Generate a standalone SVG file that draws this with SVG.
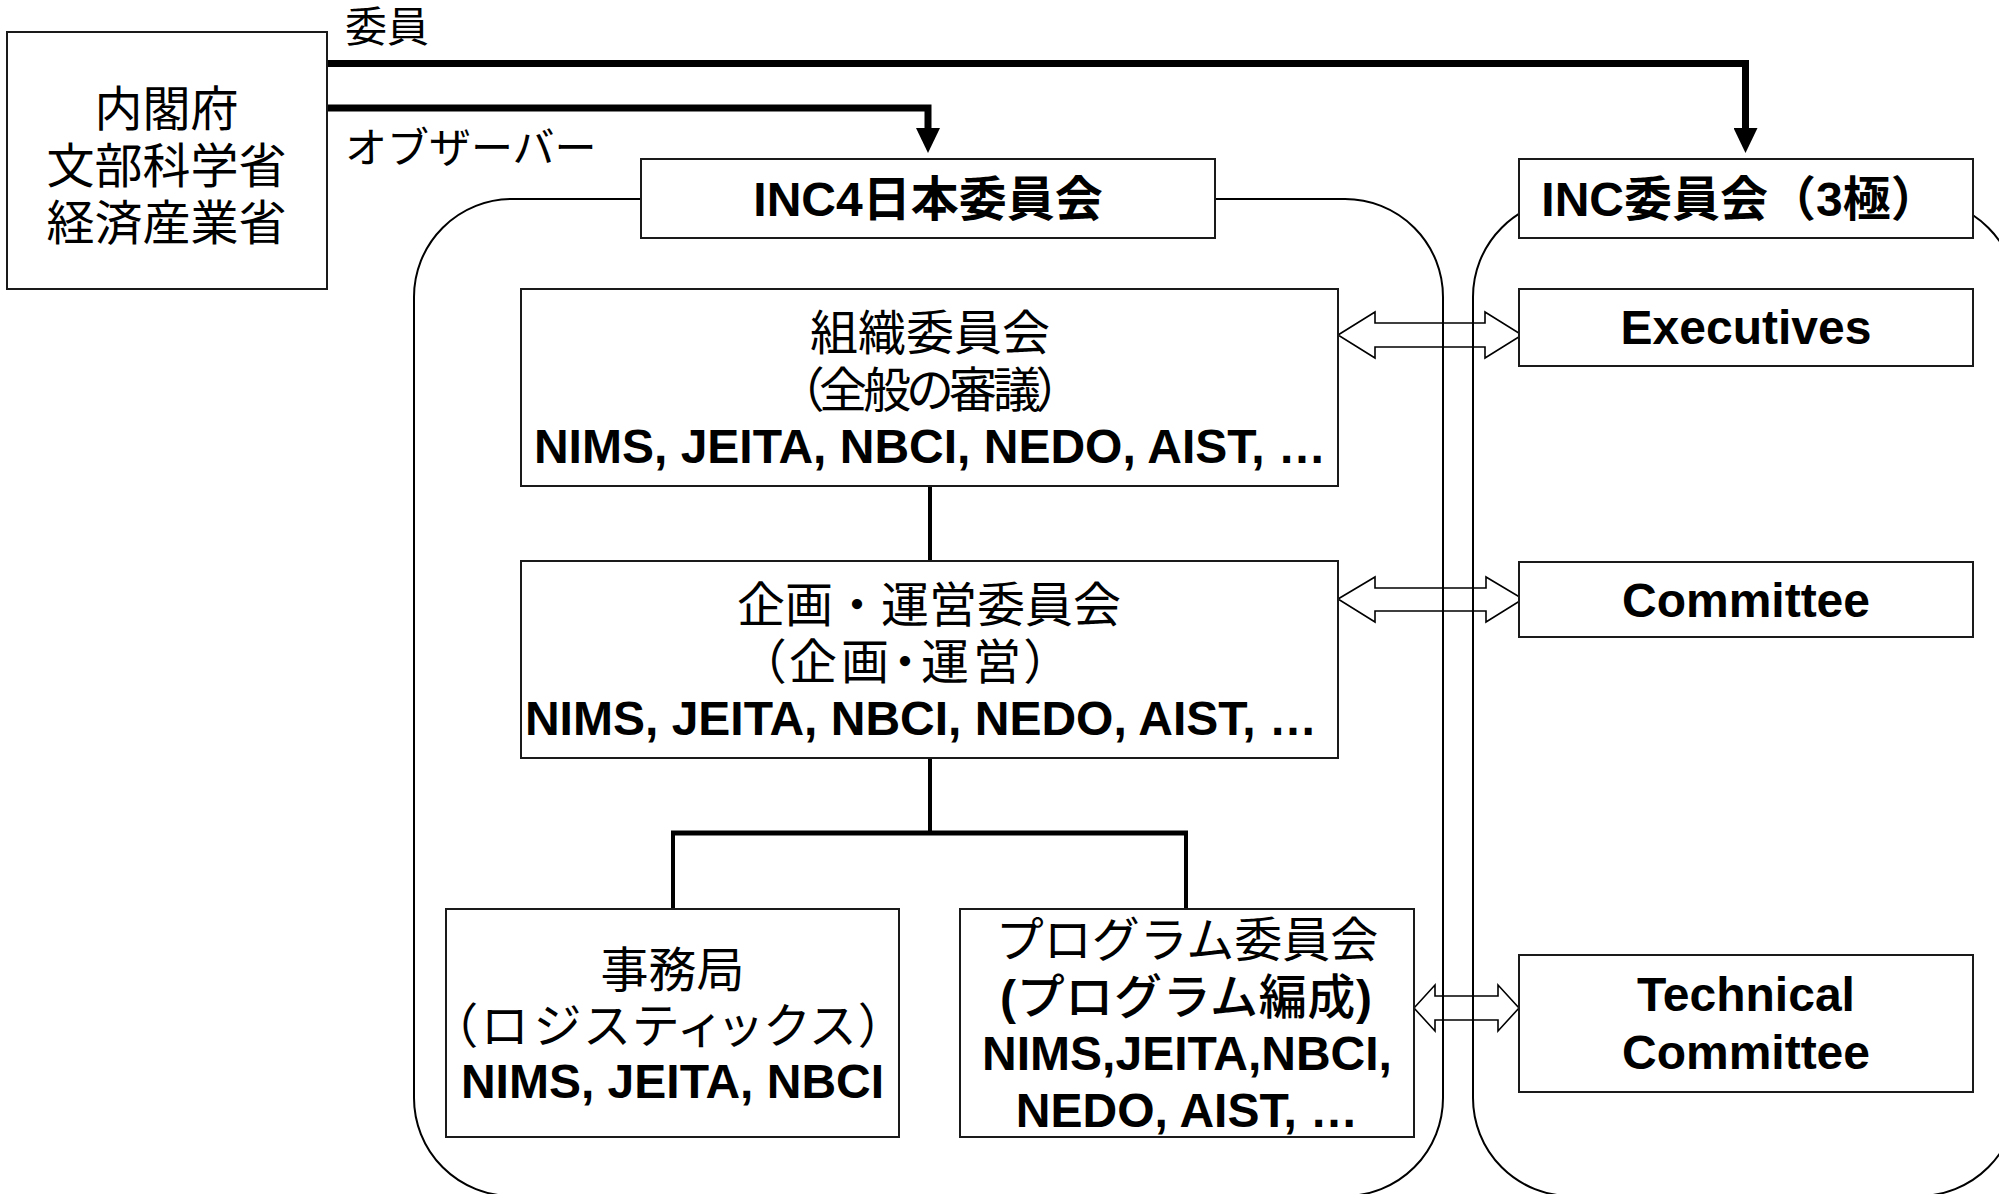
<svg xmlns="http://www.w3.org/2000/svg" width="1999" height="1194" viewBox="0 0 1999 1194">
<style>
.box{fill:#fff;stroke:#1a1a1a;stroke-width:2}
.cont{fill:none;stroke:#000;stroke-width:2}
.t{font-family:"Liberation Sans","Noto Sans CJK JP",sans-serif;font-size:48px;fill:#000;text-anchor:middle}
.s{font-family:"Liberation Sans","Noto Sans CJK JP",sans-serif;font-size:42px;fill:#000}
.b{font-weight:bold}
.m{font-weight:500}
.palt{font-feature-settings:"palt"}
.thick{fill:none;stroke:#000;stroke-width:7;stroke-linejoin:miter}
.tree{fill:none;stroke:#000;stroke-width:4}
.bar{fill:none;stroke:#000;stroke-width:5}
.dbl{fill:#fff;stroke:#000;stroke-width:1.6;stroke-linejoin:miter}
</style>
<defs>
<marker id="ah" markerUnits="userSpaceOnUse" markerWidth="26" markerHeight="24" viewBox="0 0 26 24" refX="0" refY="12" orient="auto"><path d="M0,0 L25,12 L0,24 z" fill="#000"/></marker>
</defs>
<rect width="1999" height="1194" fill="#fff"/>

<g id="connectors">
<path class="thick" d="M327,63.5 H1745.5 V128" marker-end="url(#ah)"/>
<path class="thick" d="M327,108 H928 V128" marker-end="url(#ah)"/>
<path class="tree" d="M930,486 V561 M930,758 V833 M673,833 V909 M1186,833 V909"/>
<path class="bar" d="M671,833 H1188"/>
<polygon class="dbl" points="1338,335 1375,312 1375,323 1485,323 1485,312 1522,335 1485,358 1485,347 1375,347 1375,358"/>
<polygon class="dbl" points="1338,599 1375,577 1375,588 1486,588 1486,577 1523,599 1486,622 1486,611 1375,611 1375,622"/>
<polygon class="dbl" points="1414,1008 1435,985 1435,996 1498,996 1498,985 1519,1008 1498,1031 1498,1020 1435,1020 1435,1031"/>
<text class="s" x="345" y="42">委員</text>
<text class="s" x="345" y="163">オブザーバー</text>
</g>

<g id="container-japan">
<rect class="cont" x="414" y="199" width="1029" height="997" rx="98" ry="98"/>
</g>
<g id="container-inc">
<rect class="cont" x="1473" y="199" width="544" height="997" rx="98" ry="98"/>
</g>

<g id="ministries">
<rect class="box" x="7" y="32" width="320" height="257"/>
<text class="t" x="166.5" y="126">内閣府</text>
<text class="t" x="166.5" y="183">文部科学省</text>
<text class="t" x="166.5" y="240">経済産業省</text>
</g>

<g id="inc4-japan">
<rect class="box" x="641" y="159" width="574" height="79"/>
<text class="t b" x="928" y="216">INC4日本委員会</text>
</g>

<g id="inc-committee">
<rect class="box" x="1519" y="159" width="454" height="79"/>
<text class="t b" x="1740" y="216">INC委員会（3極）</text>
</g>

<g id="organizing">
<rect class="box" x="521" y="289" width="817" height="197"/>
<text class="t" x="930" y="350">組織委員会</text>
<text class="t palt" x="930" y="407" textLength="262">（全般の審議）</text>
<text class="t b" x="930" y="463">NIMS, JEITA, NBCI, NEDO, AIST, …</text>
</g>

<g id="planning">
<rect class="box" x="521" y="561" width="817" height="197"/>
<text class="t" x="929" y="622">企画・運営委員会</text>
<text class="t palt" x="905" y="679" textLength="288">（企画・運営）</text>
<text class="t b" x="921" y="735">NIMS, JEITA, NBCI, NEDO, AIST, …</text>
</g>

<g id="secretariat">
<rect class="box" x="446" y="909" width="453" height="228"/>
<text class="t" x="672.5" y="987">事務局</text>
<text class="t palt" x="668" y="1043" textLength="431">（ロジスティックス）</text>
<text class="t b" x="672.5" y="1098">NIMS, JEITA, NBCI</text>
</g>

<g id="program">
<rect class="box" x="960" y="909" width="454" height="228"/>
<text class="t" x="1187" y="957">プログラム委員会</text>
<text class="t m" x="1186" y="1014" textLength="372"><tspan class="b">(</tspan>プログラム編成<tspan class="b">)</tspan></text>
<text class="t b" x="1187" y="1070">NIMS,JEITA,NBCI,</text>
<text class="t b" x="1187" y="1127">NEDO, AIST, …</text>
</g>

<g id="executives">
<rect class="box" x="1519" y="289" width="454" height="77"/>
<text class="t b" x="1746" y="344">Executives</text>
</g>

<g id="committee">
<rect class="box" x="1519" y="562" width="454" height="75"/>
<text class="t b" x="1746" y="617">Committee</text>
</g>

<g id="technical">
<rect class="box" x="1519" y="955" width="454" height="137"/>
<text class="t b" x="1746" y="1011">Technical</text>
<text class="t b" x="1746" y="1069">Committee</text>
</g>
</svg>
